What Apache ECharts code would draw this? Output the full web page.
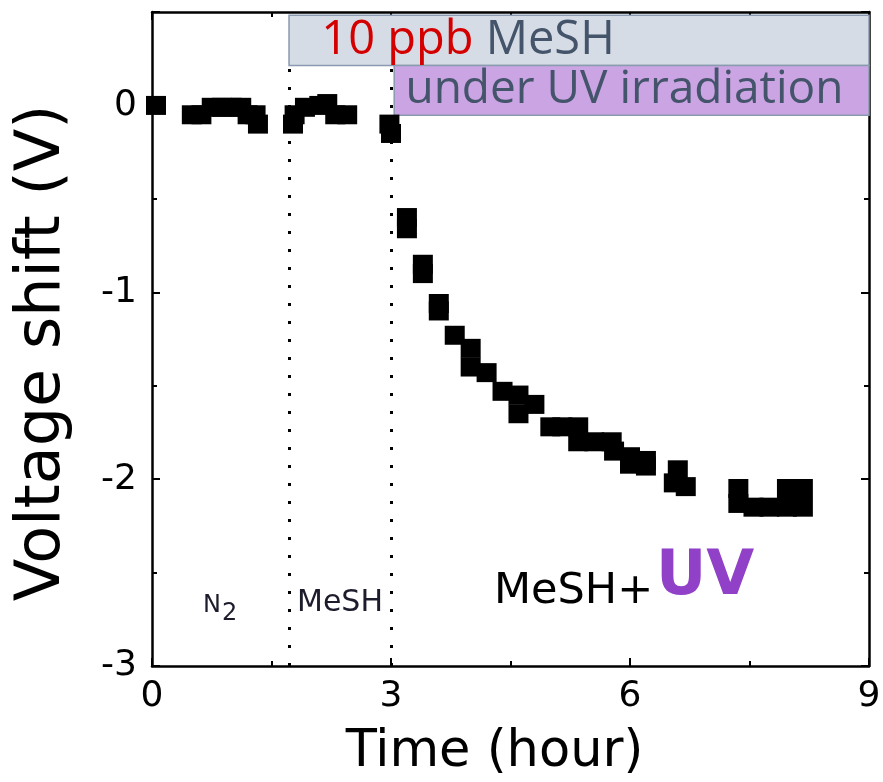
<!DOCTYPE html>
<html>
<head>
<meta charset="utf-8">
<script src="https://cdn.jsdelivr.net/npm/echarts@6/dist/echarts.min.js"></script>
<style>
html,body{margin:0;padding:0;background:#fff;}
#chart{width:883px;height:782px;}
</style>
</head>
<body>
<div id="chart"></div>
<script>
// ---- data ----
var timeHours = [0.05,0.5,0.62,0.75,0.88,1.0,1.12,1.2,1.3,1.33,
  1.77,1.79,1.92,2.1,2.2,2.3,2.45,
  2.98,3.0,
  3.2,3.2,3.4,3.4,3.6,3.6,3.8,4.0,4.0,4.2,4.4,4.6,4.6,4.8,
  5.0,5.15,5.35,5.35,5.55,5.77,5.8,6.0,6.2,6.0,6.2,6.55,6.6,6.7,
  7.36,7.36,7.55,7.75,7.97,8.17,7.97,8.17];
var voltageShift = [0.0,-0.05,-0.05,-0.01,-0.01,-0.01,-0.01,-0.05,-0.05,-0.1,
  -0.1,-0.05,-0.01,0.0,0.01,-0.05,-0.05,
  -0.1,-0.15,
  -0.6,-0.66,-0.85,-0.9,-1.06,-1.1,-1.23,-1.3,-1.4,-1.43,-1.53,-1.55,-1.65,-1.6,
  -1.72,-1.72,-1.72,-1.8,-1.8,-1.8,-1.85,-1.88,-1.9,-1.92,-1.93,-2.02,-1.95,-2.04,
  -2.05,-2.13,-2.15,-2.15,-2.15,-2.15,-2.05,-2.05];
var xTicks = [0, 3, 6, 9];
var yTicks = [-3, -2, -1, 0];
var mesHStart = 1.72;   // MeSH introduced (h)
var uvStart = 3.0;      // UV on (h)
var uvBoxStart = 3.04;

var points = timeHours.map(function(t, i){ return [t, voltageShift[i]]; });

var chart = echarts.init(document.getElementById('chart'));
var FONT = '"DejaVu Sans", sans-serif';
var BOXFONT = '"Open Sans", "Noto Sans", sans-serif';
var lineStyleAxis = {color: '#000', width: 2.5};
var tickCommon = {show: true, inside: true, length: 8, lineStyle: {color: '#000', width: 2}};
var minorCommon = {show: true, splitNumber: 2, length: 5, lineStyle: {color: '#000', width: 2}};
var axisCommon = {
  min: 0, max: 9, interval: 3,
  axisLine: {show: true, onZero: false, lineStyle: lineStyleAxis},
  axisTick: tickCommon, minorTick: minorCommon,
  splitLine: {show: false}
};
var yCommon = {
  min: -3, max: 0.5, interval: 1,
  axisLine: {show: true, onZero: false, lineStyle: lineStyleAxis},
  axisTick: tickCommon, minorTick: minorCommon,
  splitLine: {show: false}
};

var option = {
  backgroundColor: '#fff',
  animation: false,
  grid: {left: 152, right: 14, top: 12, bottom: 116, containLabel: false, outerBoundsMode: 'none'},
  xAxis: [
    Object.assign({}, axisCommon, {
      type: 'value', position: 'bottom',
      axisLabel: {show: true, fontSize: 36, color: '#000', fontFamily: FONT, margin: 13,
        formatter: function(v){ return xTicks.indexOf(v) >= 0 ? String(v) : ''; }},
      name: 'Time (hour)', nameLocation: 'middle', nameGap: 61,
      nameTextStyle: {fontSize: 51, color: '#000', fontFamily: FONT, padding: [0,32,0,0]}
    }),
    Object.assign({}, axisCommon, {
      type: 'value', position: 'top', axisLabel: {show: false}
    })
  ],
  yAxis: [
    Object.assign({}, yCommon, {
      type: 'value', position: 'left',
      axisLabel: {show: true, fontSize: 36, color: '#000', fontFamily: FONT, margin: 15,
        showMaxLabel: false,
        formatter: function(v){ return yTicks.indexOf(v) >= 0 ? String(v) : ''; }},
      name: 'Voltage shift (V)', nameLocation: 'middle', nameGap: 78,
      nameTextStyle: {fontSize: 62, color: '#000', fontFamily: FONT, padding: [0,28,0,0]}
    }),
    Object.assign({}, yCommon, {
      type: 'value', position: 'right', axisLabel: {show: false}
    })
  ],
  series: [
    {
      type: 'scatter',
      xAxisIndex: 0, yAxisIndex: 0,
      symbol: 'rect', symbolSize: [20, 19],
      itemStyle: {color: '#000', opacity: 1},
      data: points,
      z: 5,
      markArea: {
        silent: true,
        data: [
          [
            {coord: [mesHStart, 0.5 - 0.018],
             itemStyle: {color: '#d6dce5', borderColor: '#8a9ab0', borderWidth: 1.5, opacity: 1},
             label: {show: true, position: 'insideLeft', distance: 33,
               formatter: '{r|10 ppb }{s|MeSH}',
               rich: {
                 r: {color: '#d40000', fontSize: 47, fontFamily: BOXFONT},
                 s: {color: '#44546a', fontSize: 47, fontFamily: BOXFONT}
               }}},
            {coord: [9, 0.214]}
          ],
          [
            {coord: [uvBoxStart, 0.214],
             itemStyle: {color: '#cba4e4', borderColor: '#8a9ab0', borderWidth: 1.5, opacity: 1},
             label: {show: true, position: 'insideLeft', distance: 12,
               formatter: 'under UV irradiation',
               color: '#44546a', fontSize: 46, fontFamily: BOXFONT}},
            {coord: [9, -0.053]}
          ]
        ]
      },
      markLine: {
        silent: true, symbol: ['none', 'none'],
        label: {show: false},
        lineStyle: {color: '#000', width: 3, type: [3, 15]},
        data: [
          [{coord: [mesHStart, -3]}, {coord: [mesHStart, 0.214]}],
          [{coord: [uvStart, -3]}, {coord: [uvStart, 0.214]}]
        ]
      }
    }
  ],
  graphic: [
    {type: 'text', left: 203, top: 594, style: {text: 'N', fontSize: 24, fill: '#1c1c2c', fontFamily: FONT}},
    {type: 'text', left: 222, top: 602, style: {text: '2', fontSize: 24, fill: '#1c1c2c', fontFamily: FONT}},
    {type: 'text', left: 297, top: 588, style: {text: 'MeSH', fontSize: 30, fill: '#1c1c2c', fontFamily: FONT}},
    {type: 'text', left: 494, top: 570, style: {text: 'MeSH+', fontSize: 43, fill: '#000', fontFamily: FONT}},
    {type: 'text', left: 656, top: 547, style: {text: 'UV', fontSize: 62, fontWeight: 'bold', fill: '#9140c8', fontFamily: FONT}}
  ]
};
chart.setOption(option);
</script>
</body>
</html>
